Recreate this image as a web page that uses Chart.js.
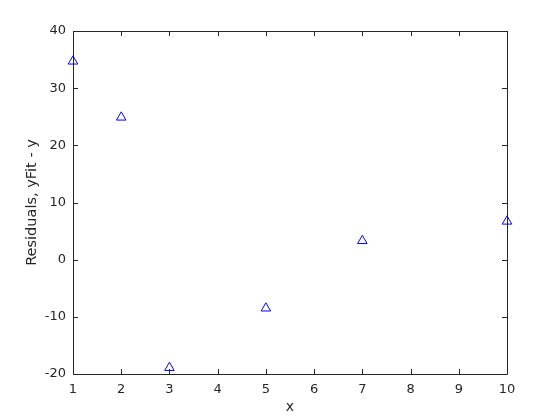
<!DOCTYPE html>
<html>
<head>
<meta charset="utf-8">
<script src="https://cdn.jsdelivr.net/npm/chart.js@4.4.0/dist/chart.umd.min.js"></script>
<style>
  html, body { margin: 0; padding: 0; background: #fff; }
  #wrap { width: 560px; height: 420px; }
</style>
</head>
<body>
<div id="wrap"><canvas id="c" width="560" height="420"></canvas></div>
<script>
// ==== DATA ====
var xValues = [1, 2, 3, 5, 7, 10];
var residuals = [34.7, 24.9, -18.9, -8.5, 3.3, 6.7];
var xTicks = [1, 2, 3, 4, 5, 6, 7, 8, 9, 10];
var yTicks = [-20, -10, 0, 10, 20, 30, 40];

var AXIS = '#262626';
var FONT = 'DejaVu Sans';

var points = xValues.map(function (x, i) { return { x: x, y: residuals[i] }; });

// box + inward ticks, matlab style
var boxTicks = {
  id: 'boxTicks',
  beforeDatasetsDraw: function (chart) {
    var ctx = chart.ctx, a = chart.chartArea;
    var sx = chart.scales.x, sy = chart.scales.y, len = 5;
    ctx.save();
    ctx.strokeStyle = AXIS;
    ctx.lineWidth = 1;
    ctx.beginPath();
    ctx.rect(Math.round(a.left) + 0.5, Math.round(a.top) + 0.5, Math.round(a.right - a.left), Math.round(a.bottom - a.top));
    xTicks.forEach(function (t) {
      var p = Math.round(sx.getPixelForValue(t)) + 0.5;
      ctx.moveTo(p, a.bottom); ctx.lineTo(p, a.bottom - len);
      ctx.moveTo(p, a.top); ctx.lineTo(p, a.top + len);
    });
    yTicks.forEach(function (t) {
      var p = Math.round(sy.getPixelForValue(t)) + 0.5;
      ctx.moveTo(a.left, p); ctx.lineTo(a.left + len, p);
      ctx.moveTo(a.right, p); ctx.lineTo(a.right - len, p);
    });
    ctx.stroke();
    ctx.restore();
  }
};

new Chart(document.getElementById('c').getContext('2d'), {
  type: 'scatter',
  data: {
    datasets: [{
      label: 'residuals',
      data: points,
      clip: false,
      pointStyle: 'triangle',
      pointRadius: 5.5,
      pointHoverRadius: 5.5,
      borderColor: '#0000ff',
      backgroundColor: 'rgba(0,0,0,0)',
      borderWidth: 1
    }]
  },
  options: {
    responsive: false,
    animation: false,
    devicePixelRatio: 1,
    layout: { padding: { top: 31, right: 53, left: 0, bottom: 0 } },
    plugins: { legend: { display: false }, tooltip: { enabled: false } },
    scales: {
      x: {
        type: 'linear', min: 1, max: 10,
        afterBuildTicks: function (s) { s.ticks = xTicks.map(function (v) { return { value: v }; }); },
        afterFit: function (s) { s.height = 46; },
        grid: { display: false, drawTicks: false },
        border: { display: false },
        ticks: { color: AXIS, padding: 8, font: { family: FONT, size: 13 }, maxRotation: 0 },
        title: { display: true, text: 'x', color: AXIS, font: { family: FONT, size: 14 }, padding: { top: 0, bottom: 4 } }
      },
      y: {
        type: 'linear', min: -20, max: 40,
        afterBuildTicks: function (s) { s.ticks = yTicks.map(function (v) { return { value: v }; }); },
        afterFit: function (s) { s.width = 73; },
        grid: { display: false, drawTicks: false },
        border: { display: false },
        ticks: { color: AXIS, padding: 7, font: { family: FONT, size: 13 } },
        title: { display: true, text: 'Residuals, yFit - y', color: AXIS, font: { family: FONT, size: 14.5 }, padding: { top: 24, bottom: 0 } }
      }
    }
  },
  plugins: [boxTicks]
});
</script>
</body>
</html>
